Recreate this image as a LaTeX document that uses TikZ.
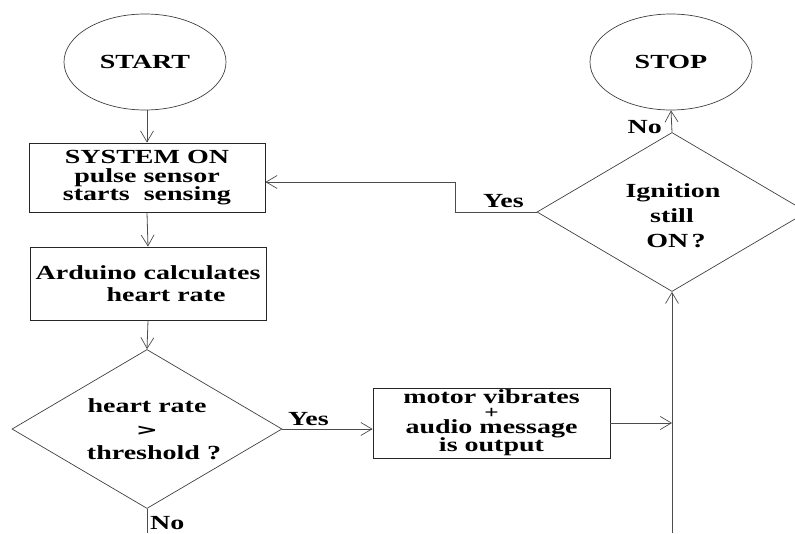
\documentclass[tikz,border=0pt]{standalone}
\usepackage{fontspec}
\usepackage{graphicx}
\setmainfont{Liberation Serif}[FakeStretch=1.4]
\newfontfamily\heavyfont{DejaVu Sans}
\usetikzlibrary{shapes.geometric,arrows.meta}
\newcommand\tightls{\lineskiplimit=-20pt\relax}
\begin{document}
\begin{tikzpicture}[x=1pt,y=-1pt,
  lineclr/.style={draw=black!70, line width=0.8pt},
  flow/.style={lineclr, -{Straight Barb[length=11pt,width=13pt,line width=0.7pt]}},
  plain/.style={lineclr},
  txt/.style={font=\bfseries\fontsize{20}{17}\selectfont\tightls, align=center, text=black},
  term/.style={ellipse, draw=black!75, line width=0.7pt, minimum width=162pt, minimum height=96pt, inner sep=0pt, txt},
  procbox/.style={rectangle, draw=black!85, line width=0.9pt, inner sep=0pt, txt},
  decis/.style={diamond, draw=black!75, line width=0.7pt, minimum width=270pt, minimum height=159pt, aspect=1.7, inner sep=0pt, txt},
  lbl/.style={font=\bfseries\fontsize{20}{20}\selectfont, inner sep=0pt, text=black}
]
\useasboundingbox (0,0) rectangle (795,533);

\node[term] (start) at (145,62) {START};
\node[procbox, minimum width=236pt, minimum height=69pt] (sys) at (147,177.5)
  {SYSTEM ON\\[2pt] pulse sensor\\[1pt] starts\ \ sensing};
\node[procbox, minimum width=236pt, minimum height=73pt, font=\bfseries\fontsize{20}{22}\selectfont\tightls] (ard) at (148,283.5)
  {Arduino calculates\\ \hspace*{36pt}heart rate};
\node[decis, font=\bfseries\fontsize{20}{23.5}\selectfont\tightls] (dia1) at (147,429)
  {\rule{0pt}{11pt}heart rate\\ {\heavyfont\bfseries\fontsize{24}{24}\selectfont\scalebox{1.1}[0.65]{>}}\\ \hspace*{14pt}threshold ?};
\node[procbox, minimum width=237pt, minimum height=70pt, font=\bfseries\fontsize{20}{17}\selectfont\tightls] (motor) at (491.5,423)
  {motor vibrates\\[-2pt] {\fontsize{18}{18}\selectfont +}\\[-2pt] audio message\\[1pt] is output};
\node[decis, font=\bfseries\fontsize{20}{25}\selectfont\tightls] (dia2) at (672,212)
  {\rule{0pt}{22pt}\hspace*{2pt}Ignition\\ still\\ \hspace*{8pt}ON\,?};
\node[term] (stop) at (671,62) {STOP};

\coordinate (bot1) at (147,533);
\coordinate (bot2) at (672,533);
\coordinate (yesA) at (455,212);
\coordinate (yesB) at (455,182);

\draw[flow] (start.south -| sys.north) -- (sys.north);
\draw[flow] (sys.south) -- (ard.north);
\draw[flow] (ard.south) -- (dia1.north);
\draw[plain] (dia1.south) -- (bot1);
\draw[flow] (dia1.east) -- (dia1.east -| motor.west);
\draw[flow] (motor.east) -- (motor.east -| dia2.south);
\draw[flow] (bot2) -- (dia2.south);
\draw[flow] (dia2.north) -- (stop.south);
\draw[flow] (dia2.west) -- (yesA) -- (yesB) -- (yesB -| sys.east);

\node[lbl, anchor=base west] (yes1) at (288,425) {Yes};
\node[lbl, anchor=base west] (no1) at (150,529.5) {No};
\node[lbl, anchor=base east] (no2) at (662,133) {No};
\node[lbl, anchor=base west] (yes2) at (483,207) {Yes};
\end{tikzpicture}
\end{document}
